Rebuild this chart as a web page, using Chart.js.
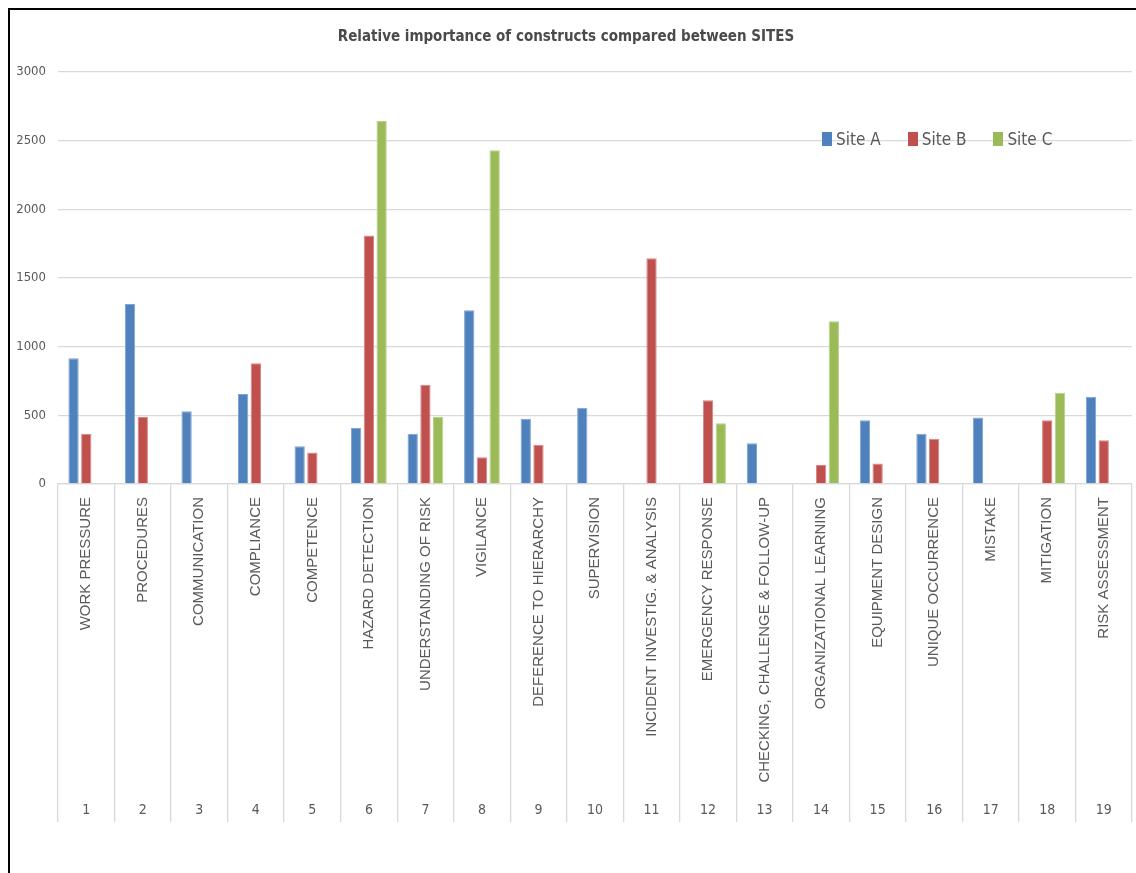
<!DOCTYPE html>
<html>
<head>
<meta charset="utf-8">
<script src="https://cdn.jsdelivr.net/npm/chart.js@4.4.1/dist/chart.umd.min.js"></script>
<style>
  body { margin: 0; background: #fff; overflow: hidden; }
  #frame { position: absolute; left: 8px; top: 8px; width: 1200px; height: 900px;
           border-left: 2px solid #000; border-top: 2px solid #000; }
  #chart { position: absolute; left: 0; top: 0; }
  #legend { position: absolute; left: 822px; top: 129px; display: flex; align-items: center;
            font-family: 'Liberation Sans Narrow', 'DejaVu Sans Condensed', sans-serif;
            font-size: 17px; color: #595959; }
  #legend .item { display: flex; align-items: center; margin-right: 27px; }
  #legend .box { width: 10px; height: 14px; margin-right: 4px; }
</style>
</head>
<body>
<div id="frame"></div>
<canvas id="chart" width="1136" height="873"></canvas>
<div id="legend"></div>
<script>
const constructs = ["WORK PRESSURE", "PROCEDURES", "COMMUNICATION", "COMPLIANCE", "COMPETENCE",
  "HAZARD DETECTION", "UNDERSTANDING OF RISK", "VIGILANCE", "DEFERENCE TO HIERARCHY",
  "SUPERVISION", "INCIDENT INVESTIG. & ANALYSIS", "EMERGENCY RESPONSE",
  "CHECKING, CHALLENGE & FOLLOW-UP", "ORGANIZATIONAL LEARNING", "EQUIPMENT DESIGN",
  "UNIQUE OCCURRENCE", "MISTAKE", "MITIGATION", "RISK ASSESSMENT"];
const numbers = ["1", "2", "3", "4", "5", "6", "7", "8", "9", "10",
  "11", "12", "13", "14", "15", "16", "17", "18", "19"];
const siteA = [915, 1310, 530, 655, 275, 410, 365, 1265, 475, 555, null, null, 296, null, 465, 365, 485, null, 635];
const siteB = [365, 488, null, 880, 230, 1810, 723, 195, 285, null, 1643, 610, null, 138, 150, 330, null, 465, 318];
const siteC = [null, null, null, null, null, 2643, 488, 2430, null, null, null, 442, null, 1185, null, null, null, 665, null];
const yTicks = [0, 500, 1000, 1500, 2000, 2500, 3000];

const seriesNames = ["Site A", "Site B", "Site C"];
const colors = ["#4F81BD", "#C0504D", "#9BBB59"];
const edges = ["#7FA3D2", "#D88683", "#B9D18A"];

const narrow = "'Liberation Sans Narrow', 'DejaVu Sans Condensed', sans-serif";
const grey = "#595959";
const gridColor = "#d9d9d9";

const datasets = [siteA, siteB, siteC].map(function (vals, i) {
  return {
    label: seriesNames[i],
    data: vals,
    backgroundColor: colors[i],
    borderColor: edges[i],
    borderWidth: 1,
    categoryPercentage: 0.675,
    barPercentage: 0.81
  };
});

new Chart(document.getElementById("chart").getContext("2d"), {
  type: "bar",
  data: { labels: constructs, datasets: datasets },
  options: {
    responsive: false,
    animation: false,
    layout: { padding: { top: 26, right: 4, bottom: 49, left: 0 } },
    plugins: {
      legend: { display: false },
      tooltip: { enabled: false },
      title: {
        display: true,
        text: "Relative importance of constructs compared between SITES",
        color: "#4a4a4a",
        font: { family: narrow, size: 15, weight: "bold" },
        padding: { top: 2, bottom: 26 }
      }
    },
    scales: {
      y: {
        min: 0,
        max: 3000,
        afterBuildTicks: function (scale) {
          scale.ticks = yTicks.map(function (v) { return { value: v }; });
        },
        afterFit: function (scale) { scale.width = 58; },
        border: { display: false },
        grid: { color: gridColor, lineWidth: 1.3, drawTicks: false },
        ticks: {
          color: grey,
          padding: 12,
          font: { family: narrow, size: 13 },
          callback: function (v) { return String(v); }
        }
      },
      x: {
        offset: true,
        afterFit: function (scale) {
          scale.height = 310;
          scale.paddingLeft = 0;
          scale.paddingRight = 0;
        },
        border: { display: true, color: gridColor, width: 1.3 },
        grid: { offset: true, drawOnChartArea: false, color: gridColor, lineWidth: 1.3, tickLength: 338 },
        ticks: {
          autoSkip: false,
          minRotation: 90,
          maxRotation: 90,
          padding: -325,
          color: grey,
          font: { family: "'Liberation Sans', Arial, sans-serif", size: 15 }
        }
      },
      x2: {
        type: "category",
        labels: numbers,
        position: "bottom",
        offset: true,
        afterFit: function (scale) {
          scale.height = 30;
          scale.paddingLeft = 0;
          scale.paddingRight = 0;
        },
        border: { display: false },
        grid: { display: false, drawTicks: false },
        ticks: { autoSkip: false, maxRotation: 0, padding: 8, color: grey, font: { family: narrow, size: 14 } }
      }
    }
  }
});

const legend = document.getElementById("legend");
seriesNames.forEach(function (name, i) {
  const item = document.createElement("div");
  item.className = "item";
  const box = document.createElement("span");
  box.className = "box";
  box.style.background = colors[i];
  const txt = document.createElement("span");
  txt.textContent = name;
  item.appendChild(box);
  item.appendChild(txt);
  legend.appendChild(item);
});
</script>
</body>
</html>
